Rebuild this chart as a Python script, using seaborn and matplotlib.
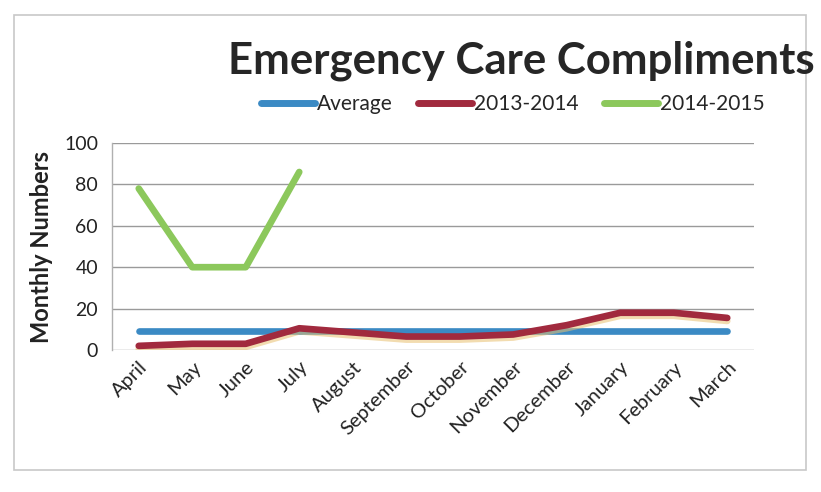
import matplotlib
matplotlib.use("Agg")
import matplotlib.pyplot as plt
import matplotlib.patheffects as pe
from matplotlib.lines import Line2D
from matplotlib.patches import Rectangle
import pandas as pd
import seaborn as sns

# Monthly compliment counts for emergency care
months = ["April", "May", "June", "July", "August", "September", "October",
          "November", "December", "January", "February", "March"]
average = [9, 9, 9, 9, 9, 9, 9, 9, 9, 9, 9, 9]
year_2013_2014 = [2, 3, 3, 10.5, 8.5, 6.5, 6.5, 7.5, 12, 18, 18, 15.5]
year_2014_2015 = [78, 40, 40, 86]

series_names = ["Average", "2013-2014", "2014-2015"]
colors = {"Average": "#3b8ac4", "2013-2014": "#a12a3e", "2014-2015": "#8cc85c"}

frames = []
for name, vals in zip(series_names, [average, year_2013_2014, year_2014_2015]):
    frames.append(pd.DataFrame({"month": months[:len(vals)],
                                "idx": range(len(vals)),
                                "value": vals,
                                "series": name}))
df = pd.concat(frames, ignore_index=True)

sns.set_theme(style="white")
plt.rcParams["font.family"] = ["Lato", "DejaVu Sans"]

W, H = 821, 492
fig = plt.figure(figsize=(W / 100, H / 100), dpi=100)
fig.patch.set_facecolor("white")

# outer chart border
fig.add_artist(Rectangle((14 / W, 1 - 470 / H), (806 - 14) / W, (470 - 15) / H,
                         transform=fig.transFigure, fill=False,
                         edgecolor="#c8c8c8", linewidth=1.2))

ax = fig.add_axes([112 / W, 1 - 350 / H, (754 - 112) / W, (350 - 143) / H])
ax.set_facecolor("white")

sns.lineplot(data=df, x="idx", y="value", hue="series", hue_order=series_names,
             palette=colors, linewidth=4.8, ax=ax, legend=False, sort=False)

for line in ax.get_lines():
    line.set_solid_capstyle("round")
    line.set_solid_joinstyle("round")
# soft shadow under the 2013-2014 line
ax.get_lines()[1].set_path_effects([
    pe.SimpleLineShadow(offset=(0, -2.2), shadow_color="#e8c070", alpha=0.55),
    pe.Normal()])

ax.set_xlim(-0.5, len(months) - 0.5)
ax.set_ylim(0, 100)
ax.set_yticks(range(0, 101, 20))
ax.set_yticklabels([str(v) for v in range(0, 101, 20)], fontsize=14, color="#222222")
ax.set_xticks(range(len(months)))
ax.set_xticklabels(months, rotation=45, ha="right", rotation_mode="anchor",
                   fontsize=14.5, color="#222222")
ax.tick_params(axis="both", length=0, pad=10)
ax.tick_params(axis="x", pad=6)

ax.grid(axis="y", color="#9a9a9a", linewidth=1.0)
ax.set_axisbelow(True)
for side in ["top", "right", "bottom"]:
    ax.spines[side].set_visible(False)
ax.spines["left"].set_color("#b0b0b0")
ax.spines["left"].set_linewidth(1.0)

ax.set_xlabel("")
ax.set_ylabel("Monthly Numbers", fontsize=17, fontweight="bold", color="#222222",
              labelpad=8)

fig.text(521 / W, 1 - 61 / H, "Emergency Care Compliments", ha="center", va="center",
         fontsize=31.5, fontweight="bold", color="#262626")

handles = [Line2D([0], [0], color=colors[n], linewidth=5, solid_capstyle="round")
           for n in series_names]
fig.legend(handles, series_names, loc="center", bbox_to_anchor=(513 / W, 1 - 104 / H),
           ncol=3, frameon=False, fontsize=15, handlelength=2.6, handletextpad=0.1,
           columnspacing=1.2)

fig.savefig("out.png", dpi=100, facecolor="white")
